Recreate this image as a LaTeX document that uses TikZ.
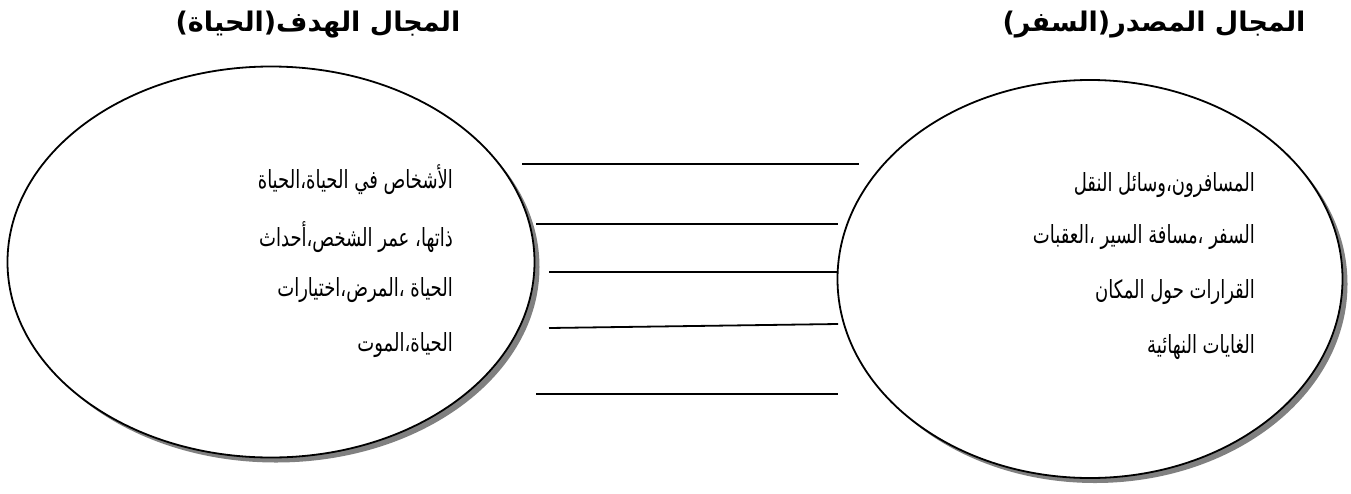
\documentclass[tikz,border=0pt]{standalone}
\usepackage{fontspec}
\newfontfamily\arabicfont[Script=Arabic,FakeStretch=0.72]{DejaVu Sans}
\newfontfamily\arabichead[Script=Arabic]{DejaVu Sans Bold}
\TeXXeTstate=1
\usetikzlibrary{shapes.geometric}
\begin{document}
\begin{tikzpicture}[x=1pt,y=-1pt,
  domainoval/.style={ellipse, draw=black, line width=1.8pt, fill=white, inner sep=0pt},
  domshade/.style={ellipse, fill=black!50, inner sep=0pt},
  item/.style={anchor=east, inner sep=0pt, font=\arabicfont\fontsize{25}{30}\selectfont},
  head/.style={inner sep=0pt, font=\arabichead\fontsize{27}{32}\selectfont},
  link/.style={line width=1.8pt}]
\useasboundingbox (0,0) rectangle (1351,493);
\fill[white] (0,0) rectangle (1351,493);

% target domain (left) with its drop shadow
\node[domshade, minimum width=527pt, minimum height=391pt] (tshade) at (276,267) {};
\node[domainoval, minimum width=527pt, minimum height=391pt] (target) at (271,262) {};
% source domain (right) with its drop shadow
\node[domshade, minimum width=505pt, minimum height=398pt] (sshade) at (1095,284) {};
\node[domainoval, minimum width=505pt, minimum height=398pt] (source) at (1090,279) {};

% headings
\node[head] (thead) at (318,25) {\beginR المجال الهدف(الحياة)\endR};
\node[head] (shead) at (1154,25) {\beginR المجال المصدر(السفر)\endR};

% items of the target domain
\node[item] (t1) at (453,180) {\beginR الأشخاص في الحياة،الحياة\endR};
\node[item] (t2) at (453,237) {\beginR ذاتها، عمر الشخص،أحداث\endR};
\node[item] (t3) at (453,290) {\beginR الحياة ،المرض،اختيارات\endR};
\node[item] (t4) at (453,345) {\beginR الحياة،الموت\endR};

% items of the source domain
\node[item] (s1) at (1255,185) {\beginR المسافرون،وسائل النقل\endR};
\node[item] (s2) at (1255,237) {\beginR السفر ،مسافة السير ،العقبات\endR};
\node[item] (s3) at (1255,292) {\beginR القرارات حول المكان\endR};
\node[item] (s4) at (1255,347) {\beginR الغايات النهائية\endR};

% mapping lines between the two domains
\coordinate (a1) at (522,164); \coordinate (b1) at (859,164);
\coordinate (a2) at (536,224); \coordinate (b2) at (838,224);
\coordinate (a3) at (549,272); \coordinate (b3) at (838,272);
\coordinate (a4) at (549,328); \coordinate (b4) at (838,324);
\coordinate (a5) at (536,394); \coordinate (b5) at (838,394);
\foreach \i in {1,...,5} \draw[link] (a\i) -- (b\i);
\end{tikzpicture}
\end{document}
